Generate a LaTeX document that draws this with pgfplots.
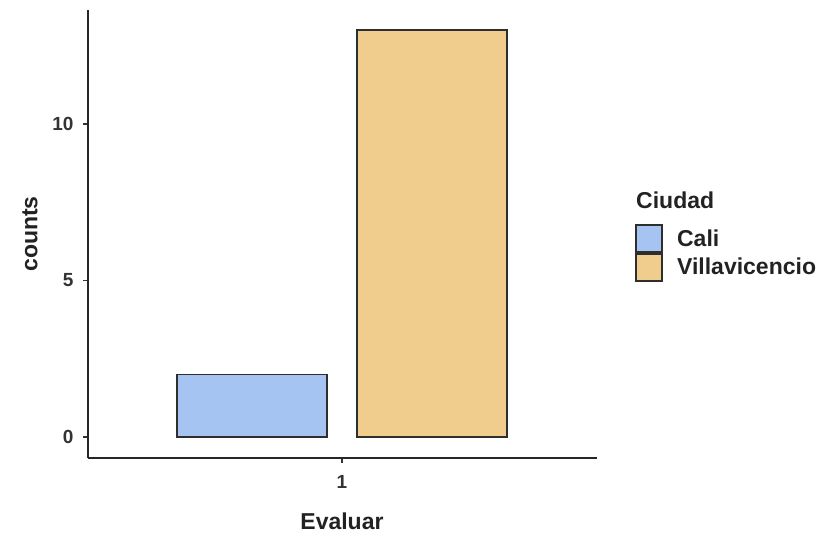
\documentclass[border=0pt]{standalone}
\usepackage{fontspec}
\setmainfont{Liberation Sans}
\usepackage{pgfplots}
\pgfplotsset{compat=1.18}
\definecolor{caliC}{HTML}{A6C4F2}
\definecolor{villaC}{HTML}{F0CD8C}
\definecolor{edgeC}{HTML}{2E2E2E}
\definecolor{tickC}{HTML}{333333}
\definecolor{titleC}{HTML}{222222}
\begin{document}
\begin{tikzpicture}[x=1pt,y=1pt]
\useasboundingbox (0,0) rectangle (822,533);
\begin{axis}[
  scale only axis,
  width=509pt, height=448pt,
  at={(88pt,75pt)}, anchor=south west,
  xmin=0.367, xmax=1.636,
  ymin=-0.67, ymax=13.64,
  xtick={1}, ytick={0,5,10},
  axis x line*=bottom, axis y line*=left,
  axis line style={-, line width=1.6pt, color=black!85},
  tick style={line width=1.4pt, color=black!80},
  tick align=outside, major tick length=5pt,
  /pgf/number format/assume math mode=true,
  ticklabel style={font=\bfseries\fontsize{19}{22}\selectfont, text=tickC},
  xticklabel style={yshift=-9pt},
  yticklabel style={xshift=-6pt},
  xlabel={Evaluar}, ylabel={counts},
  label style={font=\bfseries\fontsize{23}{26}\selectfont, text=titleC},
  xlabel style={at={(axis description cs:0.499,-0.141)}, anchor=center},
  ylabel style={at={(axis description cs:-0.114,0.5)}, anchor=center},
  legend style={draw=none, fill=none, at={(axis description cs:1.069,0.527)}, anchor=north west,
    font=\bfseries\fontsize{23}{26}\selectfont, text=titleC, column sep=14pt, row sep=0pt,
    nodes={inner sep=0pt}},
  legend cell align=left,
  legend image code/.code={\draw[#1] (0pt,-13.5pt) rectangle (26pt,13.5pt);},
]
\addplot[ybar, bar width=0.374, bar shift=0pt, fill=caliC, draw=edgeC, line width=1.8pt] coordinates {(0.775,2)};
\addlegendentry{Cali}
\addplot[ybar, bar width=0.374, bar shift=0pt, fill=villaC, draw=edgeC, line width=1.8pt] coordinates {(1.225,13)};
\addlegendentry{Villavicencio}
\end{axis}
\node[anchor=west, font=\bfseries\fontsize{23}{26}\selectfont, text=titleC, inner sep=0pt] at (636,333) {Ciudad};
\end{tikzpicture}
\end{document}
